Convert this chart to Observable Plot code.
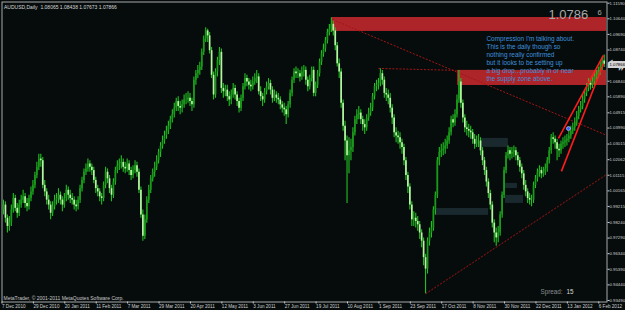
<!DOCTYPE html>
<html><head><meta charset="utf-8">
<script src="https://cdn.jsdelivr.net/npm/d3@7"></script>
<script src="https://cdn.jsdelivr.net/npm/@observablehq/plot@0.6"></script>
<style>
html,body{margin:0;padding:0;background:#060c0c;}
#chart{width:625px;height:310px;overflow:hidden;}
</style></head><body><div id="chart"></div>
<script>
const headerText = "AUDUSD,Daily  1.08065 1.08438 1.07673 1.07866";
const bigPrice = "1.0786";
const bigPriceSuffix = "6";
const spreadValue = "15";
const copyright = "MetaTrader, \u00a9 2001-2011 MetaQuotes Software Corp.";
const firstOpen = 0.990;
const closes = [
0.993,0.985,0.980,0.982,0.990,0.997,0.991,0.988,0.993,0.996,
0.998,0.994,0.992,0.997,1.001,1.005,1.011,1.016,1.021,1.020,
1.005,1.001,0.996,0.993,0.988,0.992,0.996,0.997,0.999,0.996,
0.993,0.997,1.002,0.999,0.997,0.996,0.993,0.992,0.996,1.003,
1.008,1.013,1.015,1.018,1.016,1.014,1.008,1.003,1.001,0.998,
0.997,1.005,1.013,1.009,1.003,0.999,1.007,1.014,1.017,1.018,
1.019,1.016,1.015,1.018,1.014,1.011,1.014,1.017,1.013,1.002,
0.987,0.974,0.984,0.996,1.002,1.009,1.013,1.016,1.020,1.025,
1.029,1.032,1.035,1.038,1.041,1.045,1.048,1.052,1.056,1.053,
1.052,1.054,1.057,1.057,1.058,1.056,1.054,1.069,1.073,1.075,
1.077,1.086,1.094,1.099,1.096,1.087,1.072,1.060,1.074,1.081,
1.086,1.064,1.062,1.063,1.059,1.057,1.060,1.064,1.060,1.056,
1.052,1.058,1.065,1.070,1.068,1.066,1.065,1.068,1.070,1.071,
1.062,1.059,1.057,1.062,1.065,1.067,1.063,1.058,1.060,1.058,
1.057,1.054,1.052,1.051,1.048,1.054,1.061,1.069,1.074,1.073,
1.073,1.071,1.074,1.075,1.069,1.065,1.070,1.075,1.061,1.066,
1.073,1.080,1.085,1.088,1.093,1.098,1.100,1.103,1.099,1.090,
1.079,1.074,1.055,1.041,1.032,1.023,1.026,1.028,1.037,1.045,
1.048,1.049,1.045,1.042,1.040,1.046,1.049,1.052,1.059,1.065,
1.066,1.067,1.073,1.069,1.061,1.060,1.058,1.052,1.046,1.037,
1.035,1.034,1.031,1.028,1.020,1.011,1.004,0.993,0.984,0.985,
0.983,0.981,0.976,0.971,0.961,0.954,0.971,0.976,0.979,0.990,
0.999,1.020,1.025,1.026,1.027,1.029,1.032,1.037,1.045,1.043,
1.048,1.057,1.068,1.055,1.046,1.040,1.039,1.038,1.037,1.033,
1.030,1.032,1.032,1.026,1.020,1.014,1.007,1.000,0.993,0.982,
0.976,0.973,0.976,0.987,0.999,1.014,1.023,1.026,1.024,1.025,
1.026,1.023,1.020,1.016,1.012,1.005,1.001,0.997,0.996,0.996,
1.005,1.009,1.013,1.014,1.012,1.013,1.015,1.020,1.026,1.034,
1.033,1.031,1.027,1.026,1.030,1.031,1.032,1.033,1.035,1.038,
1.040,1.043,1.047,1.051,1.053,1.057,1.061,1.064,1.067,1.066,
1.068,1.071,1.072,1.074,1.077,1.0807,1.07866];
const highs = [
0.996,0.995,0.987,0.986,0.993,1.000,0.999,0.994,0.996,0.999,
1.002,1.000,0.997,0.999,1.004,1.008,1.013,1.019,1.024,1.024,
1.022,1.008,1.003,0.999,0.995,0.995,0.999,1.000,1.003,1.001,
0.998,1.000,1.005,1.004,1.002,1.000,0.998,0.996,0.998,1.005,
1.010,1.015,1.018,1.021,1.020,1.018,1.016,1.010,1.005,1.003,
1.000,1.007,1.016,1.015,1.011,1.005,1.009,1.016,1.020,1.021,
1.023,1.021,1.019,1.021,1.020,1.016,1.017,1.020,1.019,1.015,
1.004,0.990,0.987,0.998,1.005,1.011,1.015,1.019,1.023,1.027,
1.031,1.035,1.038,1.041,1.044,1.047,1.051,1.055,1.058,1.059,
1.056,1.057,1.060,1.061,1.062,1.061,1.058,1.071,1.075,1.078,
1.080,1.088,1.096,1.101,1.100,1.098,1.089,1.074,1.076,1.083,
1.089,1.088,1.067,1.066,1.066,1.062,1.063,1.067,1.066,1.062,
1.058,1.060,1.067,1.073,1.072,1.070,1.069,1.071,1.073,1.075,
1.073,1.065,1.061,1.064,1.068,1.070,1.069,1.065,1.063,1.062,
1.061,1.059,1.056,1.055,1.053,1.056,1.063,1.071,1.076,1.077,
1.076,1.075,1.077,1.078,1.077,1.071,1.072,1.077,1.077,1.068,
1.075,1.082,1.087,1.091,1.095,1.100,1.103,1.107,1.105,1.101,
1.092,1.082,1.076,1.057,1.044,1.035,1.034,1.033,1.040,1.047,
1.051,1.053,1.051,1.047,1.045,1.048,1.052,1.055,1.061,1.067,
1.069,1.070,1.076,1.075,1.071,1.064,1.063,1.061,1.054,1.048,
1.040,1.038,1.037,1.033,1.030,1.022,1.013,1.006,0.995,0.989,
0.988,0.986,0.983,0.978,0.973,0.963,0.973,0.979,0.983,0.992,
1.001,1.022,1.028,1.030,1.031,1.033,1.035,1.040,1.047,1.048,
1.051,1.060,1.075,1.070,1.057,1.048,1.044,1.042,1.041,1.039,
1.036,1.035,1.036,1.034,1.028,1.022,1.016,1.009,1.002,0.995,
0.984,0.979,0.980,0.989,1.001,1.016,1.025,1.029,1.028,1.028,
1.029,1.028,1.025,1.022,1.018,1.014,1.008,1.003,1.000,0.999,
1.007,1.011,1.015,1.017,1.016,1.016,1.018,1.022,1.028,1.036,
1.037,1.035,1.033,1.030,1.032,1.034,1.035,1.036,1.038,1.041,
1.043,1.046,1.050,1.053,1.056,1.060,1.063,1.067,1.070,1.070,
1.071,1.074,1.075,1.077,1.080,1.083,1.08438];
const lows = [
0.987,0.982,0.976,0.977,0.980,0.988,0.989,0.985,0.986,0.991,
0.994,0.991,0.989,0.990,0.995,0.999,1.003,1.009,1.014,1.016,
1.003,0.998,0.993,0.990,0.984,0.986,0.990,0.993,0.994,0.993,
0.989,0.991,0.995,0.996,0.994,0.993,0.990,0.989,0.990,0.994,
1.001,1.006,1.011,1.013,1.013,1.011,1.006,1.000,0.998,0.995,
0.993,0.995,1.003,1.006,1.000,0.995,0.997,1.005,1.012,1.014,
1.015,1.013,1.012,1.013,1.011,1.008,1.009,1.012,1.010,1.000,
0.985,0.971,0.972,0.982,0.994,1.000,1.007,1.010,1.014,1.018,
1.022,1.027,1.030,1.033,1.036,1.039,1.043,1.046,1.050,1.050,
1.048,1.049,1.052,1.054,1.055,1.053,1.050,1.052,1.066,1.070,
1.072,1.075,1.084,1.092,1.092,1.085,1.070,1.057,1.058,1.071,
1.078,1.061,1.058,1.059,1.056,1.053,1.054,1.058,1.057,1.053,
1.049,1.050,1.056,1.063,1.065,1.063,1.062,1.063,1.066,1.067,
1.060,1.056,1.053,1.055,1.060,1.063,1.060,1.055,1.056,1.055,
1.054,1.051,1.049,1.047,1.042,1.046,1.052,1.059,1.067,1.070,
1.070,1.068,1.069,1.071,1.066,1.062,1.063,1.068,1.059,1.059,
1.064,1.071,1.078,1.083,1.086,1.091,1.096,1.098,1.096,1.087,
1.077,1.070,1.052,1.038,1.020,0.994,1.012,1.020,1.025,1.035,
1.042,1.045,1.042,1.038,1.036,1.038,1.044,1.047,1.050,1.057,
1.062,1.063,1.065,1.066,1.058,1.056,1.054,1.049,1.042,1.034,
1.031,1.030,1.027,1.024,1.017,1.008,1.000,0.990,0.980,0.980,
0.979,0.977,0.972,0.967,0.956,0.939,0.951,0.968,0.973,0.977,
0.987,0.997,1.017,1.022,1.023,1.024,1.027,1.030,1.035,1.040,
1.041,1.046,1.055,1.052,1.043,1.037,1.035,1.034,1.033,1.030,
1.027,1.028,1.028,1.023,1.017,1.011,1.004,0.997,0.990,0.979,
0.970,0.968,0.970,0.974,0.985,0.997,1.012,1.021,1.020,1.021,
1.022,1.020,1.017,1.013,1.009,1.002,0.998,0.994,0.993,0.992,
0.994,1.003,1.007,1.010,1.009,1.010,1.011,1.013,1.018,1.024,
1.030,1.027,1.020,1.022,1.024,1.027,1.028,1.029,1.031,1.033,
1.036,1.038,1.041,1.045,1.049,1.051,1.055,1.059,1.062,1.063,
1.064,1.066,1.069,1.070,1.072,1.075,1.07673];
const dateLabels = ["7 Dec 2010","29 Dec 2010","20 Jan 2011","11 Feb 2011","7 Mar 2011","29 Mar 2011","20 Apr 2011","12 May 2011","3 Jun 2011","27 Jun 2011","19 Jul 2011","10 Aug 2011","1 Sep 2011","23 Sep 2011","17 Oct 2011","8 Nov 2011","30 Nov 2011","22 Dec 2011","13 Jan 2012","6 Feb 2012"];
const dateLabelBars = [0,16,32,48,64,80,96,112,128,144,160,176,192,208,224,240,256,272,288,304];
const priceTicks = [1.11590,1.10640,1.09690,1.08740,1.06840,1.05890,1.04915,1.03990,1.03015,1.02062,1.01115,1.00165,0.99215,0.98240,0.97290,0.96340,0.95390,0.94440,0.93490];
const supplyZones = [
  {i1:167.4, i2:307.2, lo:1.0987, hi:1.1072},
  {i1:231.3, i2:307.2, lo:1.0658, hi:1.0750}
];
const greyZones = [
  {i1:243.0, i2:257.2, lo:1.0281, hi:1.0336},
  {i1:220.1, i2:247.1, lo:0.9867, hi:0.9909},
  {i1:255.7, i2:261.8, lo:1.0031, hi:1.0062},
  {i1:255.7, i2:264.9, lo:0.9940, hi:0.9989}
];
const trendLines = [
  {i1:167.5, p1:1.1060, i2:307.2, p2:1.0355},
  {i1:191.0, p1:1.0762, i2:230.8, p2:1.0750},
  {i1:215.0, p1:0.9390, i2:307.2, p2:1.0116}
];
const channelLines = [
  {i1:282.7, p1:1.0336, i2:305.6, p2:1.0841},
  {i1:284.2, p1:1.0135, i2:305.6, p2:1.0792}
];
const markerPoint = [{i:287.8, p:1.0396}];
const noteLines = ["Compression I'm talking about.","This is the daily though so","nothing really confirmed","but it looks to be setting up","a big drop...probably in or near","the supply zone above."];

const bars = closes.map((c, i) => ({i, o: i ? closes[i-1] : firstOpen, c, h: highs[i], l: lows[i]}));
const upBars = bars.filter(d => d.c >= d.o);
const downBars = bars.filter(d => d.c < d.o);
const labelMap = new Map(dateLabelBars.map((b, k) => [b, dateLabels[k]]));
const lastClose = closes[closes.length - 1];
const font = "'Liberation Sans', Arial, sans-serif";

const chart = Plot.plot({
  width: 625, height: 310,
  marginTop: 1.5, marginLeft: 1.5, marginRight: 18.5, marginBottom: 8.5,
  style: {background: "#060c0c", fontFamily: font},
  x: {domain: [0, 306], range: [3, 603.7], axis: null},
  y: {domain: [0.9349, 1.1159], range: [300, 2.7], axis: null},
  marks: [
    Plot.rect(supplyZones, {x1: "i1", x2: "i2", y1: "lo", y2: "hi", fill: "#c0272c", fillOpacity: 0.9}),
    Plot.rect(greyZones, {x1: "i1", x2: "i2", y1: "lo", y2: "hi", fill: "#1b2b30", fillOpacity: 0.95}),
    Plot.link(trendLines, {x1: "i1", y1: "p1", x2: "i2", y2: "p2", stroke: "#a51414", strokeWidth: 1, strokeDasharray: "2,1.5"}),
    Plot.ruleX(bars, {x: "i", y1: "l", y2: "h", stroke: "#22c022", strokeWidth: 1.1}),
    Plot.ruleX(upBars, {x: "i", y1: "o", y2: "c", stroke: "#1a9a1a", strokeWidth: 1.7}),
    Plot.ruleX(downBars, {x: "i", y1: "o", y2: "c", stroke: "#b4f5a0", strokeWidth: 1.7}),
    Plot.link(channelLines, {x1: "i1", y1: "p1", x2: "i2", y2: "p2", stroke: "#ff1c1c", strokeWidth: 1.6}),
    Plot.dot(markerPoint, {x: "i", y: "p", r: 2, fill: "#3a5cff", stroke: "#e0e8ff", strokeWidth: 0.6}),
    Plot.frame({stroke: "#a8a8a8"}),
    Plot.axisX(dateLabelBars, {anchor: "bottom", tickSize: 2, tickPadding: 0.5, tickFormat: d => labelMap.get(d), textAnchor: "start", dx: -1.5, fontSize: 4.6, color: "#cfcfcf"}),
    Plot.axisY(priceTicks, {anchor: "right", tickSize: 2, tickPadding: 0.5, tickFormat: d => d.toFixed(5), fontSize: 4.3, color: "#cfcfcf"}),
    Plot.text([lastClose], {y: d => d, frameAnchor: "right", dx: 2.5, textAnchor: "start", text: d => d.toFixed(5), fill: "#000", stroke: "#d4d4d4", strokeWidth: 4, strokeLinejoin: "miter", fontSize: 4.3}),
    Plot.text([headerText], {frameAnchor: "top-left", dx: 2, dy: 3, textAnchor: "start", lineAnchor: "top", fill: "#d8d8d8", fontSize: 5}),
    Plot.text([bigPrice], {frameAnchor: "top-left", dx: 546.5, dy: 12.5, textAnchor: "start", lineAnchor: "middle", fill: "#a8a8a8", fontSize: 13}),
    Plot.text([bigPriceSuffix], {frameAnchor: "top-left", dx: 595.5, dy: 11, textAnchor: "start", lineAnchor: "middle", fill: "#a8a8a8", fontSize: 7.5}),
    Plot.text([noteLines.join("\n")], {frameAnchor: "top-left", dx: 484.5, dy: 33, textAnchor: "start", lineAnchor: "top", lineHeight: 1.25, fill: "#3f90dc", fontSize: 6.4}),
    Plot.text(["Spread:"], {frameAnchor: "top-left", dx: 538.5, dy: 289.5, textAnchor: "start", lineAnchor: "middle", fill: "#8c8c8c", fontSize: 6.3}),
    Plot.text([spreadValue], {frameAnchor: "top-left", dx: 564.5, dy: 289.5, textAnchor: "start", lineAnchor: "middle", fill: "#d8d8d8", fontSize: 6.3}),
    Plot.text([copyright], {frameAnchor: "top-left", dx: 1.5, dy: 296, textAnchor: "start", lineAnchor: "middle", fill: "#c8c8c8", fontSize: 5})
  ]
});
document.getElementById("chart").appendChild(chart);
</script>
</body></html>
